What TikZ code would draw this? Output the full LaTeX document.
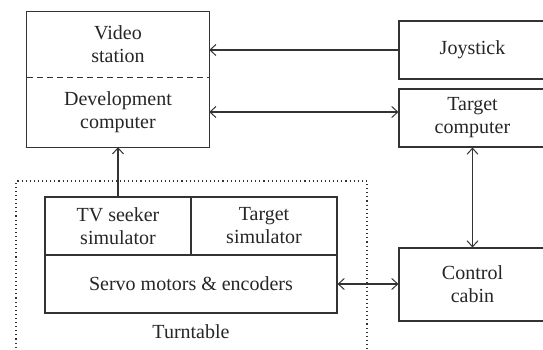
\documentclass[tikz,border=0pt]{standalone}
\usepackage{fontspec}
\setmainfont{Liberation Serif}
\usetikzlibrary{arrows.meta}
\begin{document}
\begin{tikzpicture}[x=1pt,y=-1pt,
  lbl/.style={inner sep=0pt, align=center, font=\fontsize{20}{23}\selectfont, text=black!85},
  blk/.style={lbl, draw=black!80, line width=1.1pt},
  conn/.style={draw=black!80, line width=1.1pt},
  tip/.style={-{Straight Barb[length=6pt,width=11pt,line width=1pt]}},
  both/.style={{Straight Barb[length=6pt,width=11pt,line width=1pt]}-{Straight Barb[length=6pt,width=11pt,line width=1pt]}},
  dots/.style={draw=black!80, line width=1.1pt, dash pattern=on 1.1pt off 3pt}]
\useasboundingbox (0,0) rectangle (543,349);
\clip (0,0) rectangle (543,349);
\fill[white] (0,0) rectangle (543,349);
% left station box
\node[lbl, minimum width=182pt, minimum height=65pt] (video) at (118,44.5) {Video\\station};
\node[lbl, minimum width=182pt, minimum height=70pt] (dev) at (118,112) {Development\\computer};
\draw[conn] (video.north west) rectangle (dev.south east);
\draw[conn, dashed, dash pattern=on 6pt off 4pt] (video.south west) -- (video.south east);
% right boxes
\node[blk, minimum width=147pt, minimum height=58pt] (joy) at (472.5,50) {Joystick};
\node[blk, minimum width=147pt, minimum height=58pt] (tc) at (472.5,118) {Target\\computer};
\node[blk, minimum width=147pt, minimum height=73pt] (cc) at (472.5,284.5) {Control\\cabin};
% turntable
\draw[dots] (16,360) -- (16,181) -- (367,181) -- (367,360);
\node[blk, minimum width=146pt, minimum height=58pt] (tv) at (118,226) {TV seeker\\simulator};
\node[blk, minimum width=146pt, minimum height=58pt] (ts) at (264,226) {Target\\simulator};
\node[blk, minimum width=292pt, minimum height=58pt] (servo) at (191,284) {Servo motors \& encoders};
\node[lbl] (tt) at (191,332) {Turntable};
% connectors
\draw[conn, tip] (joy.west) -- (joy.west -| video.east);
\draw[conn, both] (dev.east) -- (dev.east -| tc.west);
\draw[conn, tip] (tv.north) -- (tv.north |- dev.south);
\draw[conn, both] (tc.south) -- (tc.south |- cc.north);
\draw[conn, both] (servo.east) -- (servo.east -| cc.west);
\end{tikzpicture}
\end{document}
